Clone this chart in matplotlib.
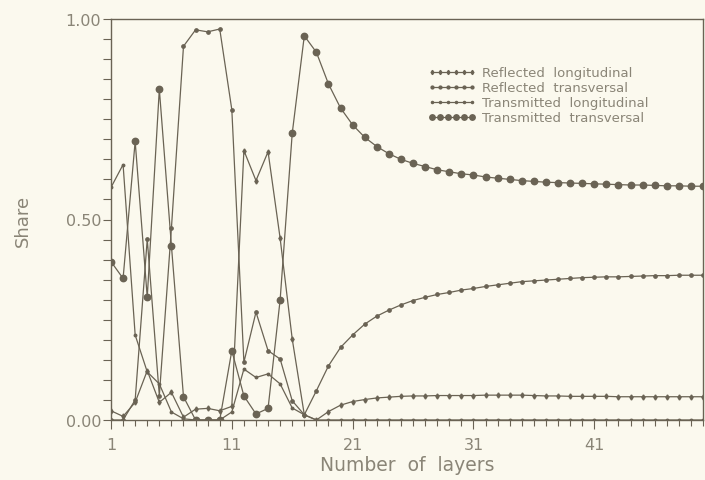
import matplotlib
matplotlib.use("Agg")
import matplotlib.pyplot as plt
import numpy as np

layers = list(range(1, 51))

transmitted_transversal = [0.395, 0.353, 0.695, 0.306, 0.825, 0.435, 0.058, 0.000, 0.000, 0.000,
                           0.173, 0.060, 0.015, 0.029, 0.300, 0.715, 0.958, 0.917, 0.838, 0.778,
                           0.736, 0.705, 0.682, 0.664, 0.650, 0.640, 0.632, 0.624, 0.619, 0.614,
                           0.611, 0.606, 0.603, 0.600, 0.597, 0.595, 0.593, 0.592, 0.591, 0.590,
                           0.589, 0.588, 0.587, 0.586, 0.586, 0.585, 0.584, 0.584, 0.583, 0.583]

reflected_transversal = [0.000, 0.000, 0.050, 0.451, 0.061, 0.478, 0.932, 0.973, 0.968, 0.975,
                         0.774, 0.144, 0.269, 0.173, 0.152, 0.048, 0.013, 0.073, 0.135, 0.181,
                         0.212, 0.239, 0.259, 0.274, 0.287, 0.298, 0.306, 0.313, 0.318, 0.324,
                         0.328, 0.333, 0.337, 0.341, 0.345, 0.347, 0.349, 0.351, 0.353, 0.355,
                         0.356, 0.357, 0.357, 0.358, 0.359, 0.360, 0.360, 0.361, 0.361, 0.361]

reflected_longitudinal = [0.023, 0.009, 0.044, 0.123, 0.044, 0.069, 0.007, 0.027, 0.029, 0.023,
                          0.034, 0.672, 0.597, 0.669, 0.453, 0.202, 0.013, 0.000, 0.021, 0.037,
                          0.046, 0.051, 0.055, 0.057, 0.059, 0.060, 0.060, 0.061, 0.061, 0.061,
                          0.061, 0.062, 0.062, 0.062, 0.062, 0.061, 0.060, 0.060, 0.059, 0.059,
                          0.059, 0.059, 0.058, 0.058, 0.058, 0.058, 0.058, 0.058, 0.058, 0.058]

transmitted_longitudinal = [0.580, 0.637, 0.212, 0.120, 0.090, 0.020, 0.003, 0.000, 0.000, 0.000,
                            0.020, 0.127, 0.106, 0.115, 0.090, 0.030, 0.013, 0.000, 0.000, 0.000,
                            0.000, 0.000, 0.000, 0.000, 0.000, 0.000, 0.000, 0.000, 0.000, 0.000,
                            0.000, 0.000, 0.000, 0.000, 0.000, 0.000, 0.000, 0.000, 0.000, 0.000,
                            0.000, 0.000, 0.000, 0.000, 0.000, 0.000, 0.000, 0.000, 0.000, 0.000]

series_labels = ["Reflected  longitudinal", "Reflected  transversal",
                 "Transmitted  longitudinal", "Transmitted  transversal"]
x_ticks = [1, 11, 21, 31, 41]
y_ticks = [0.0, 0.5, 1.0]

bg = "#fbf9ee"
ink = "#6a6354"
txt = "#8a8577"

fig = plt.figure(figsize=(7.05, 4.81), dpi=100, facecolor=bg)
ax = fig.add_axes([111/705, 1 - 421/481, (703-111)/705, (421-20)/481])
ax.set_facecolor(bg)

ax.plot(layers, reflected_longitudinal, color=ink, lw=0.9, marker="d", ms=2.6,
        mfc=ink, mec=ink, label=series_labels[0])
ax.plot(layers, reflected_transversal, color=ink, lw=0.9, marker="o", ms=2.4,
        mfc=ink, mec=ink, label=series_labels[1])
ax.plot(layers, transmitted_longitudinal, color=ink, lw=0.9, marker="o", ms=1.8,
        mfc=ink, mec=ink, label=series_labels[2])
ax.plot(layers, transmitted_transversal, color=ink, lw=0.9, marker="o", ms=4.6,
        mfc=ink, mec=ink, label=series_labels[3])

ax.set_xlim(1, 50)
ax.set_ylim(0, 1)
ax.set_xticks(x_ticks)
ax.set_xticklabels([str(v) for v in x_ticks])
ax.set_xticks(layers, minor=True)
ax.set_yticks(y_ticks)
ax.set_yticklabels(["%.2f" % v for v in y_ticks])
ax.set_yticks(np.arange(0, 1.0001, 0.05), minor=True)

for sp in ax.spines.values():
    sp.set_color(ink)
    sp.set_linewidth(1.0)

ax.tick_params(axis="both", which="both", direction="out", color=ink, width=0.8,
               labelcolor=txt, labelsize=11.5)
ax.tick_params(axis="y", which="both", length=5.5, pad=1.5)
ax.tick_params(axis="x", which="major", length=6.5, pad=6)
ax.tick_params(axis="x", which="minor", length=4)

ax.set_xlabel("Number  of  layers", fontsize=13.5, color=txt, labelpad=2)
ax.set_ylabel("Share", fontsize=13, color=txt, labelpad=24)

leg = ax.legend(loc="upper left", bbox_to_anchor=((423-111)/592, 1 - (62-20)/401),
                frameon=False, fontsize=9.5, handlelength=3.6, handletextpad=0.5,
                labelspacing=0.15, borderaxespad=0, numpoints=6, markerscale=0.85)
for t in leg.get_texts():
    t.set_color(txt)

fig.savefig("out.png", dpi=100, facecolor=bg)
